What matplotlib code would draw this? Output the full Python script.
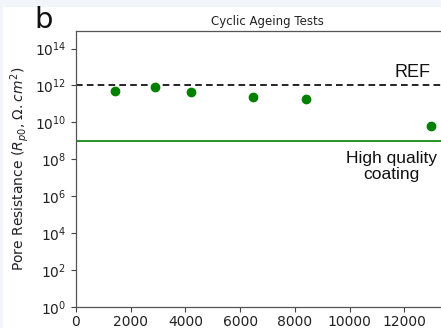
import matplotlib
matplotlib.use("Agg")
import matplotlib.pyplot as plt
from matplotlib.patches import Rectangle
import numpy as np

cycles = [1430, 2870, 4190, 6470, 8410, 12980]
resistance = [5.3e11, 7.8e11, 4.7e11, 2.5e11, 1.8e11, 6.0e9]
ref_level = 1e12
hq_level = 1e9
ytick_vals = [1e0, 1e2, 1e4, 1e6, 1e8, 1e10, 1e12, 1e14]
xtick_vals = [0, 2000, 4000, 6000, 8000, 10000, 12000]

fig = plt.figure(figsize=(4.41, 3.28), dpi=100)
fig.patch.set_facecolor("white")
# light frame strips of the screenshot
fig.patches.append(Rectangle((0, 1 - 7/328), 1, 7/328, transform=fig.transFigure,
                             facecolor="#f2f6fa", edgecolor="none", zorder=-1))
fig.patches.append(Rectangle((0, 0), 3/441, 1, transform=fig.transFigure,
                             facecolor="#f2f6fa", edgecolor="none", zorder=-1))

ax = fig.add_axes([76/441, 21/328, 383/441, 276/328])
ax.set_yscale("log")
ax.set_xlim(0, 14000)
ax.set_ylim(1e0, 10**14.95)

ax.axhline(ref_level, color="black", linestyle="--", linewidth=1.2, dashes=(4, 2.5))
ax.axhline(hq_level, color="green", linestyle="-", linewidth=1.2)
ax.plot(cycles, resistance, "o", color="green", markersize=6, linestyle="none")

ax.set_yticks(ytick_vals)
ax.yaxis.set_minor_locator(matplotlib.ticker.NullLocator())
ax.set_xticks(xtick_vals)
ax.tick_params(labelsize=10, length=3.5, width=0.8, color="#444444", labelcolor="#222222")
ax.tick_params(axis="x", pad=2)
for s in ax.spines.values():
    s.set_color("#555555")
    s.set_linewidth(0.9)

ax.set_title("Cyclic Ageing Tests", fontsize=8.5, pad=4, color="#222222")
ax.set_ylabel(r"Pore Resistance ($R_{p0}$, $\Omega.cm^2$)", fontsize=10, color="#222222", labelpad=3)

ax.text(12300, 10**12.7, "REF", fontsize=13, family="Liberation Sans",
        ha="center", va="center", color="#111111")
ax.text(11520, 10**7.6, "High quality\ncoating", fontsize=12.5, family="Liberation Sans",
        ha="center", va="center", color="#111111", linespacing=1.1)

fig.text(44/441, 1 - 20/328, "b", fontsize=21, ha="center", va="center", color="#111111")

fig.savefig("out.png", dpi=100)
